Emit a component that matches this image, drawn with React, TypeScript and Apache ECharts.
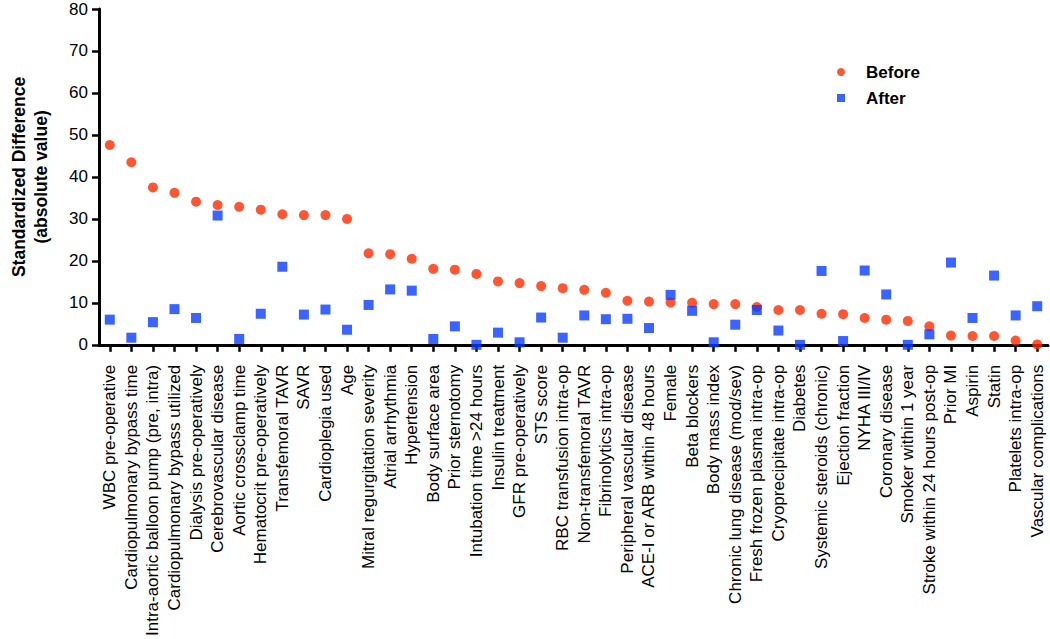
import React, { useEffect, useRef } from "react";
import * as echarts from "echarts";

const categories: string[] = [
  "WBC pre-operative",
  "Cardiopulmonary bypass time",
  "Intra-aortic balloon pump (pre, intra)",
  "Cardiopulmonary bypass utilized",
  "Dialysis pre-operatively",
  "Cerebrovascular disease",
  "Aortic crossclamp time",
  "Hematocrit pre-operatively",
  "Transfemoral TAVR",
  "SAVR",
  "Cardioplegia used",
  "Age",
  "Mitral regurgitation severity",
  "Atrial arrhythmia",
  "Hypertension",
  "Body surface area",
  "Prior sternotomy",
  "Intubation time >24 hours",
  "Insulin treatment",
  "GFR pre-operatively",
  "STS score",
  "RBC transfusion intra-op",
  "Non-transfemoral TAVR",
  "Fibrinolytics intra-op",
  "Peripheral vascular disease",
  "ACE-I or ARB within 48 hours",
  "Female",
  "Beta blockers",
  "Body mass index",
  "Chronic lung disease (mod/sev)",
  "Fresh frozen plasma intra-op",
  "Cryoprecipitate intra-op",
  "Diabetes",
  "Systemic steroids (chronic)",
  "Ejection fraction",
  "NYHA III/IV",
  "Coronary disease",
  "Smoker within 1 year",
  "Stroke within 24 hours post-op",
  "Prior MI",
  "Aspirin",
  "Statin",
  "Platelets intra-op",
  "Vascular complications",
];

const beforeValues: number[] = [
  47.6, 43.5, 37.5, 36.2, 34.1, 33.3, 32.9, 32.2, 31.1, 30.9, 30.9, 30.0,
  21.8, 21.6, 20.5, 18.1, 17.9, 16.9, 15.1, 14.7, 14.0, 13.5, 13.1, 12.4,
  10.5, 10.3, 10.1, 10.0, 9.7, 9.7, 9.0, 8.3, 8.3, 7.4, 7.3, 6.4, 6.0, 5.7,
  4.4, 2.2, 2.1, 2.1, 1.0, 0.1,
];

const afterValues: number[] = [
  6.0, 1.7, 5.4, 8.5, 6.4, 30.8, 1.4, 7.4, 18.6, 7.2, 8.4, 3.6,
  9.5, 13.2, 12.9, 1.4, 4.4, 0.0, 2.9, 0.6, 6.5, 1.7, 7.0, 6.1,
  6.2, 4.0, 11.9, 8.1, 0.6, 4.8, 8.3, 3.4, 0.0, 17.6, 0.9, 17.7, 12.0, 0.0,
  2.5, 19.6, 6.4, 16.5, 7.0, 9.2,
];

const yTicks = { min: 0, max: 80, interval: 10 };

const FONT = "'Liberation Sans', Arial, Helvetica, sans-serif";
const RED = "#ff2a00";
const BLUE = "#0a3cff";

export default function App() {
  const ref = useRef<HTMLDivElement>(null);

  useEffect(() => {
    if (!ref.current) return;
    const chart = echarts.init(ref.current, undefined, { renderer: "svg" });
    chart.setOption({
      animation: false,
      backgroundColor: "#ffffff",
      grid: { left: 91, top: 9, right: 2, bottom: 293, containLabel: false },
      legend: {
        orient: "vertical",
        left: 832,
        top: 58,
        itemWidth: 8,
        itemHeight: 8,
        itemGap: 8,
        textStyle: {
          fontFamily: FONT,
          fontSize: 17,
          fontWeight: "bold",
          color: "#000",
          lineHeight: 18,
          padding: [0, 0, 0, 16],
        },
        data: [
          { name: "Before", icon: "circle" },
          { name: "After", icon: "rect" },
        ],
      },
      xAxis: {
        type: "category",
        data: categories,
        boundaryGap: true,
        axisLine: { show: true, lineStyle: { color: "#000", width: 3 } },
        axisTick: {
          show: true,
          alignWithLabel: true,
          length: 7,
          lineStyle: { color: "#000", width: 2.5 },
        },
        axisLabel: {
          interval: 0,
          rotate: 90,
          margin: 20,
          color: "#000",
          fontFamily: FONT,
          fontSize: 17,
        },
        splitLine: { show: false },
      },
      yAxis: {
        type: "value",
        min: yTicks.min,
        max: yTicks.max,
        interval: yTicks.interval,
        name: "Standardized Difference\n(absolute value)",
        nameLocation: "middle",
        nameRotate: 90,
        nameGap: 47,
        nameTextStyle: {
          fontFamily: FONT,
          fontSize: 17.5,
          fontWeight: "bold",
          color: "#000",
          lineHeight: 22,
        },
        axisLine: { show: true, lineStyle: { color: "#000", width: 3 } },
        axisTick: {
          show: true,
          length: 7,
          lineStyle: { color: "#000", width: 2.5 },
        },
        axisLabel: {
          margin: 11,
          color: "#000",
          fontFamily: FONT,
          fontSize: 17,
        },
        splitLine: { show: false },
      },
      series: [
        {
          name: "Before",
          type: "scatter",
          data: beforeValues,
          symbol: "circle",
          symbolSize: 10,
          itemStyle: { color: RED },
          z: 2,
        },
        {
          name: "After",
          type: "scatter",
          data: afterValues,
          symbol: "rect",
          symbolSize: 10,
          itemStyle: { color: BLUE },
          z: 3,
        },
      ],
    });
    return () => chart.dispose();
  }, []);

  return (
    <div
      ref={ref}
      style={{ position: "fixed", left: 0, top: 0, width: 1050, height: 639 }}
    />
  );
}
